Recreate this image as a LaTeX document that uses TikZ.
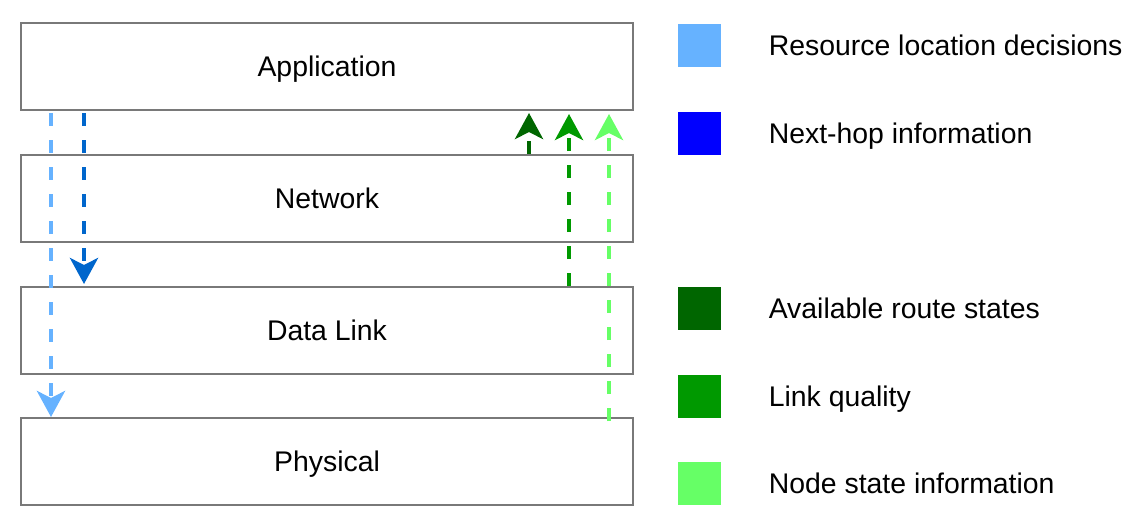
\documentclass[tikz,border=0pt]{standalone}
\usepackage{fontspec}
\setmainfont{Liberation Sans}
\usetikzlibrary{positioning, arrows.meta}

\definecolor{resblue}{HTML}{66B2FF}
\definecolor{hopblue}{HTML}{0066CC}
\definecolor{keyblue}{HTML}{0000FF}
\definecolor{routegreen}{HTML}{006600}
\definecolor{linkgreen}{HTML}{009900}
\definecolor{nodegreen}{HTML}{66FF66}

\begin{document}
\begin{tikzpicture}[x=0.5pt,y=-0.5pt,
        font=\fontsize{14.2}{17}\selectfont,
        layer/.style={draw=gray!95!black, line width=1pt, minimum width=306pt, minimum height=43.5pt,
                      inner sep=0pt, text height=10pt, text depth=0pt},
        legendkey/.style={minimum size=21.5pt, inner sep=0pt},
        legendtext/.style={right=23.5pt of #1, inner sep=0pt, text height=10pt, text depth=0pt},
        flow/.style={dashed, dash pattern=on 6.5pt off 7pt, line width=2.3pt,
                     -{Stealth[length=13pt, width=14pt, inset=3.5pt]}}]
        \useasboundingbox (0,0) rectangle (1138,526);

        % draw the layers
        \node[layer] (app)  at (327,66.5)  {Application};
        \node[layer] (net)  at (327,198.5) {Network};
        \node[layer] (link) at (327,330.5) {Data Link};
        \node[layer] (phys) at (327,461.5) {Physical};

        % draw the flows down the stack
        \draw[flow, resblue] ([xshift=15.5pt,yshift=-1pt]app.south west) -- ([xshift=15.5pt]phys.north west);
        \draw[flow, hopblue] ([xshift=32pt,yshift=-1pt]app.south west) -- ([xshift=32pt,yshift=1pt]link.north west);

        % draw the flows up the stack
        \draw[flow, routegreen] ([xshift=254.5pt]net.north west) -- ([xshift=254.5pt,yshift=-1pt]app.south west);
        \draw[flow, linkgreen] ([xshift=274.5pt]link.north west) -- ([xshift=274.5pt,yshift=-1.5pt]app.south west);
        \draw[flow, nodegreen] ([xshift=294.5pt,yshift=-2pt]phys.north west) -- ([xshift=294.5pt,yshift=-1.5pt]app.south west);

        % draw the legend
        \node[legendkey, fill=resblue]    (kres)   at (699.5,45.5)  {};
        \node[legendkey, fill=keyblue]    (khop)   at (699.5,133.5) {};
        \node[legendkey, fill=routegreen] (kroute) at (699.5,308)   {};
        \node[legendkey, fill=linkgreen]  (klink)  at (699.5,396)   {};
        \node[legendkey, fill=nodegreen]  (knode)  at (699.5,483.5) {};

        \node[legendtext=kres]   (tres)   {Resource location decisions};
        \node[legendtext=khop]   (thop)   {Next-hop information};
        \node[legendtext=kroute] (troute) {Available route states};
        \node[legendtext=klink]  (tlink)  {Link quality};
        \node[legendtext=knode]  (tnode)  {Node state information};
\end{tikzpicture}
\end{document}
